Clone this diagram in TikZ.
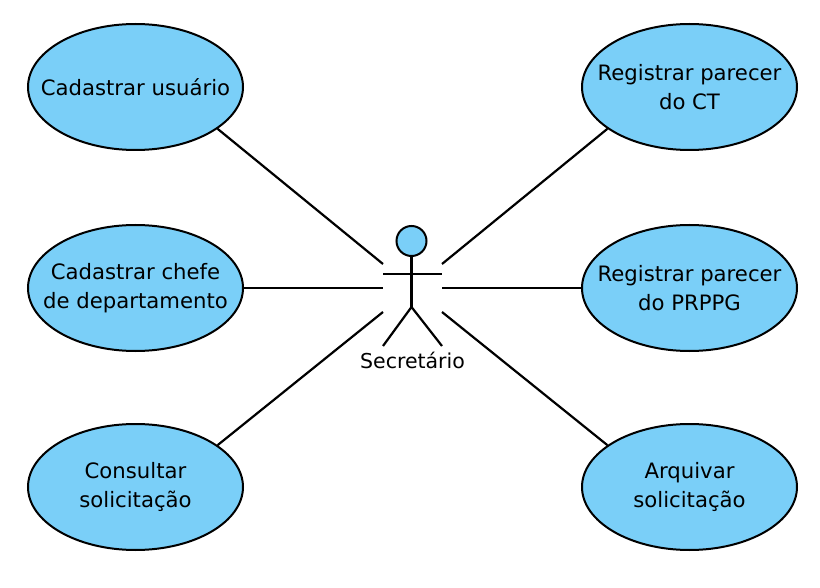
\documentclass[tikz,border=0pt]{standalone}
\usepackage{fontspec}
\usetikzlibrary{shapes.geometric}
\setmainfont{DejaVu Sans}
\definecolor{ucfill}{RGB}{122,207,248}
\tikzset{
  usecase/.style={ellipse,draw=black,fill=ucfill,line width=2pt,minimum width=215pt,minimum height=126pt,inner xsep=-30pt,inner ysep=-5pt,align=center,font=\fontsize{21.2}{29.5}\selectfont},
  conn/.style={line width=2.2pt,black},
  limb/.style={line width=2.2pt,black}
}
\begin{document}
\begin{tikzpicture}[x=1pt,y=-1pt]
\useasboundingbox (0,0) rectangle (820,588);
\fill[white] (0,0) rectangle (820,588);
\node[usecase] (u1) at (135.5,87) {Cadastrar usuário};
\node[usecase] (u2) at (135.5,288) {Cadastrar chefe\\de departamento};
\node[usecase] (u3) at (135.5,487) {Consultar\\solicitação};
\node[usecase] (u4) at (689.5,87) {Registrar parecer\\do CT};
\node[usecase] (u5) at (689.5,288) {Registrar parecer\\do PRPPG};
\node[usecase] (u6) at (689.5,487) {Arquivar\\solicitação};
% actor
\node[circle,draw=black,fill=ucfill,line width=2pt,minimum size=30pt,inner sep=0pt] (head) at (411.5,241) {};
\coordinate (hip) at (head.south |- 0,307);
\coordinate (armL) at (383,274);
\coordinate (armR) at (442,274);
\coordinate (legL) at (383,346);
\coordinate (legR) at (442,346);
\draw[limb] (head.south) -- (hip);
\draw[limb] (armL) -- (armR);
\draw[limb,line join=miter] (legL) -- (hip) -- (legR);
\node[font=\fontsize{20.5}{24}\selectfont,inner sep=0pt] (lab) at (412.5,360) {Secretário};
% connector ends
\coordinate (e1) at (383,264);
\coordinate (e2) at (383,288);
\coordinate (e3) at (383,312);
\coordinate (e4) at (442,264);
\coordinate (e5) at (442,288);
\coordinate (e6) at (442,312);
\draw[conn] (u1.-27.8) -- (e1);
\draw[conn] (u2.east) -- (e2);
\draw[conn] (u3.27.3) -- (e3);
\draw[conn] (u4.207.8) -- (e4);
\draw[conn] (u5.west) -- (e5);
\draw[conn] (u6.153) -- (e6);
\end{tikzpicture}
\end{document}
